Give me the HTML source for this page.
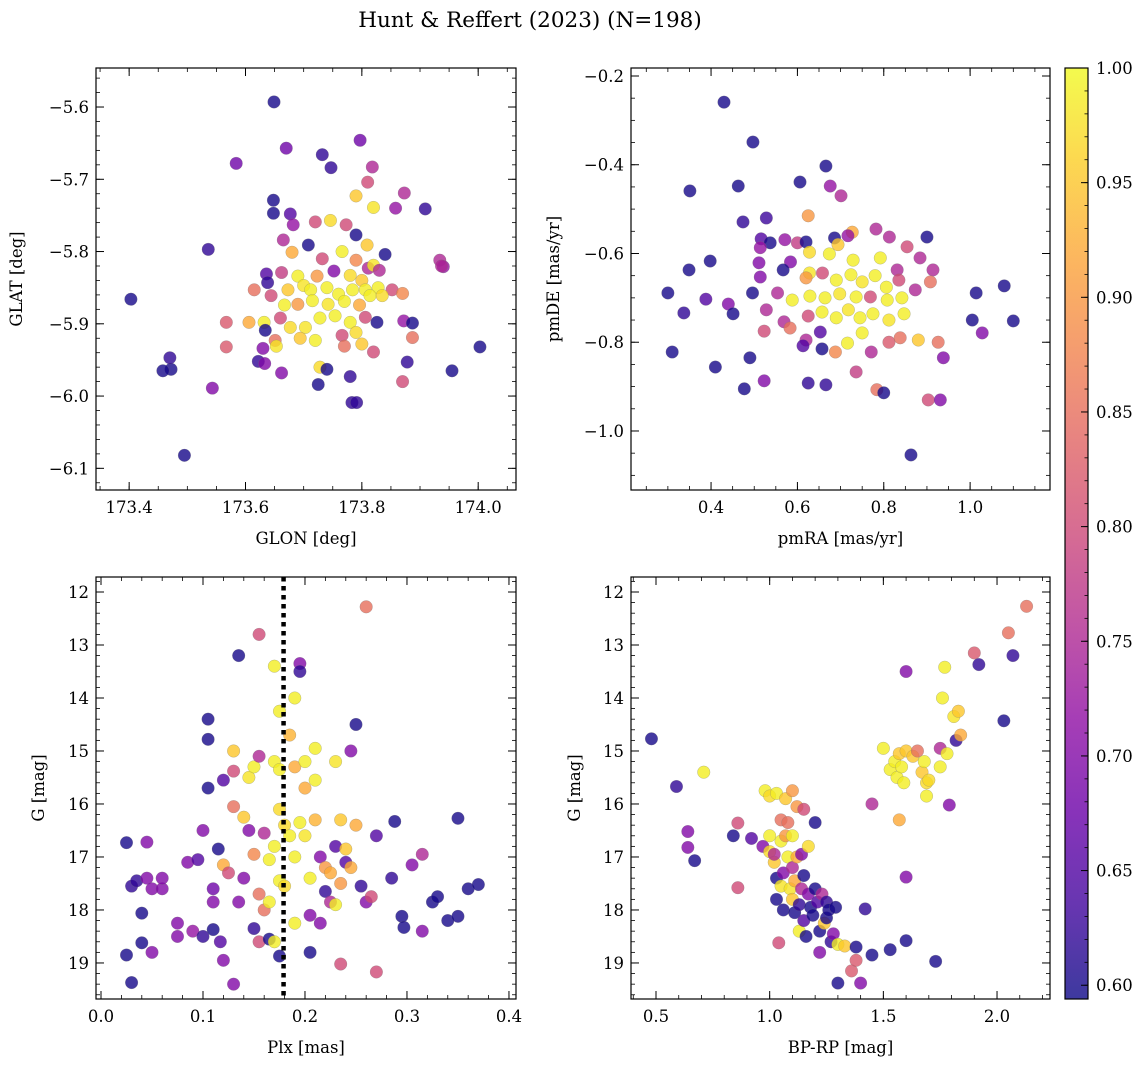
<!DOCTYPE html>
<html><head><meta charset="utf-8"><style>
body{margin:0;background:#fff;}
svg{display:block;font-family:"DejaVu Serif","Liberation Serif",serif;}
</style></head><body>
<svg id="fig" width="1148" height="1067" xmlns="http://www.w3.org/2000/svg">
<text x="530" y="27" font-size="21.5" text-anchor="middle">Hunt &amp; Reffert (2023) (N=198)</text>
</svg>
<script>
// ---- data (x, y, membership probability) per panel ----
const p1Glon=[173.403,173.649,173.584,173.67,173.797,173.732,173.747,173.818,173.81,173.79,173.82,173.873,173.858,173.909,173.648,173.648,173.677,173.682,173.72,173.746,173.773,173.79,173.809,173.84,173.708,173.68,173.665,173.536,173.732,173.766,173.79,173.811,173.82,173.636,173.662,173.69,173.723,173.752,173.78,173.8,173.83,173.934,173.94,173.638,173.673,173.7,173.712,173.74,173.76,173.784,173.806,173.828,173.852,173.87,173.615,173.644,173.667,173.69,173.715,173.742,173.77,173.796,173.814,173.835,173.567,173.606,173.632,173.66,173.677,173.703,173.728,173.754,173.78,173.806,173.826,173.872,173.887,173.634,173.651,173.694,173.72,173.766,173.79,173.567,173.63,173.653,173.77,173.8,173.82,173.887,173.622,173.633,173.728,173.74,173.662,173.725,173.78,173.87,173.878,173.543,173.472,173.458,173.47,173.495,173.783,173.791,173.955,174.003,173.937];
const p1Glat=[-5.866,-5.593,-5.678,-5.657,-5.646,-5.666,-5.684,-5.683,-5.704,-5.723,-5.739,-5.719,-5.74,-5.741,-5.729,-5.747,-5.748,-5.763,-5.759,-5.757,-5.763,-5.777,-5.791,-5.804,-5.791,-5.801,-5.784,-5.797,-5.81,-5.8,-5.812,-5.823,-5.819,-5.831,-5.829,-5.834,-5.834,-5.827,-5.833,-5.84,-5.826,-5.812,-5.821,-5.843,-5.853,-5.847,-5.853,-5.85,-5.859,-5.853,-5.853,-5.85,-5.853,-5.858,-5.853,-5.861,-5.874,-5.873,-5.868,-5.873,-5.869,-5.874,-5.861,-5.861,-5.898,-5.898,-5.898,-5.892,-5.905,-5.905,-5.892,-5.889,-5.898,-5.891,-5.898,-5.896,-5.899,-5.909,-5.923,-5.92,-5.923,-5.916,-5.912,-5.932,-5.934,-5.931,-5.931,-5.928,-5.939,-5.919,-5.952,-5.955,-5.96,-5.963,-5.968,-5.984,-5.973,-5.98,-5.953,-5.989,-5.963,-5.965,-5.947,-6.082,-6.009,-6.009,-5.965,-5.932,-5.82];
const p1Prob=[0.6,0.6,0.68,0.68,0.68,0.62,0.62,0.75,0.8,0.95,0.98,0.75,0.72,0.62,0.6,0.6,0.65,0.72,0.8,0.97,0.8,0.6,0.95,0.6,0.6,0.92,0.75,0.62,0.8,0.99,0.88,0.75,0.98,0.65,0.78,0.99,0.9,0.7,0.97,0.95,0.75,0.75,0.72,0.62,0.95,0.98,0.99,0.99,0.99,0.99,0.99,0.99,0.8,0.88,0.85,0.8,0.99,0.9,0.99,0.98,0.99,0.92,0.99,0.97,0.82,0.92,0.99,0.8,0.97,0.98,0.99,0.99,0.99,0.8,0.6,0.72,0.6,0.6,0.85,0.95,0.99,0.8,0.97,0.82,0.7,0.98,0.85,0.95,0.8,0.85,0.62,0.7,0.97,0.6,0.7,0.6,0.62,0.8,0.62,0.7,0.6,0.6,0.62,0.6,0.62,0.62,0.6,0.6,0.75];

const p2PmRA=[0.43,0.497,0.351,0.463,0.606,0.666,0.676,0.701,0.528,0.625,0.727,0.782,0.813,0.9,0.474,0.516,0.537,0.571,0.6,0.62,0.686,0.717,0.854,0.514,0.398,0.349,0.511,0.584,0.628,0.674,0.694,0.729,0.792,0.831,0.884,0.914,1.079,1.014,0.514,0.567,0.628,0.62,0.658,0.69,0.724,0.75,0.78,0.806,0.835,0.873,0.908,0.3,0.388,0.44,0.496,0.554,0.588,0.629,0.664,0.698,0.736,0.769,0.808,0.842,0.337,0.451,0.528,0.569,0.625,0.657,0.69,0.718,0.745,0.775,0.812,0.847,1.005,1.1,0.31,0.41,0.49,0.523,0.583,0.62,0.653,0.688,0.716,0.75,0.771,0.812,0.838,0.88,0.926,1.028,0.938,0.523,0.477,0.625,0.666,0.736,0.784,0.8,0.903,0.931,0.863,0.613,0.657];
const p2PmDE=[-0.259,-0.349,-0.459,-0.448,-0.439,-0.403,-0.448,-0.47,-0.52,-0.515,-0.552,-0.545,-0.563,-0.563,-0.529,-0.567,-0.576,-0.569,-0.576,-0.574,-0.565,-0.56,-0.585,-0.587,-0.617,-0.637,-0.621,-0.619,-0.597,-0.601,-0.58,-0.615,-0.61,-0.637,-0.61,-0.637,-0.673,-0.689,-0.653,-0.637,-0.644,-0.655,-0.644,-0.66,-0.648,-0.664,-0.65,-0.676,-0.66,-0.682,-0.664,-0.689,-0.703,-0.714,-0.689,-0.689,-0.705,-0.696,-0.7,-0.691,-0.698,-0.698,-0.705,-0.7,-0.734,-0.736,-0.727,-0.754,-0.741,-0.732,-0.745,-0.727,-0.745,-0.736,-0.75,-0.736,-0.75,-0.752,-0.822,-0.856,-0.835,-0.775,-0.768,-0.795,-0.777,-0.822,-0.802,-0.779,-0.822,-0.8,-0.79,-0.795,-0.8,-0.779,-0.835,-0.887,-0.905,-0.892,-0.896,-0.867,-0.907,-0.914,-0.93,-0.93,-1.054,-0.808,-0.815];
const p2Prob=[0.6,0.6,0.6,0.6,0.6,0.6,0.72,0.75,0.63,0.9,0.92,0.75,0.75,0.6,0.62,0.65,0.6,0.72,0.78,0.6,0.6,0.72,0.8,0.72,0.6,0.6,0.7,0.7,0.97,0.99,0.95,0.99,0.99,0.75,0.75,0.75,0.6,0.6,0.7,0.6,0.98,0.9,0.8,0.99,0.99,0.98,0.99,0.99,0.8,0.75,0.85,0.6,0.65,0.7,0.6,0.75,0.99,0.99,0.99,0.98,0.99,0.8,0.99,0.99,0.62,0.6,0.75,0.75,0.8,0.99,0.99,0.98,0.99,0.99,0.98,0.99,0.6,0.6,0.6,0.6,0.6,0.8,0.85,0.75,0.65,0.88,0.99,0.99,0.75,0.82,0.85,0.95,0.85,0.7,0.7,0.7,0.6,0.62,0.62,0.78,0.85,0.6,0.8,0.7,0.6,0.65,0.6];

const p3Plx=[0.025,0.03,0.025,0.03,0.04,0.04,0.035,0.045,0.045,0.05,0.05,0.06,0.06,0.075,0.075,0.085,0.09,0.095,0.1,0.1,0.105,0.105,0.105,0.11,0.11,0.11,0.115,0.117,0.12,0.12,0.12,0.125,0.13,0.13,0.13,0.13,0.135,0.135,0.14,0.14,0.145,0.145,0.15,0.15,0.15,0.155,0.155,0.155,0.155,0.16,0.16,0.165,0.165,0.165,0.17,0.17,0.17,0.17,0.175,0.175,0.175,0.175,0.175,0.18,0.18,0.185,0.185,0.19,0.19,0.19,0.19,0.195,0.195,0.195,0.2,0.2,0.2,0.205,0.205,0.205,0.21,0.21,0.21,0.215,0.215,0.22,0.22,0.225,0.225,0.23,0.23,0.23,0.235,0.235,0.235,0.24,0.24,0.245,0.245,0.25,0.25,0.255,0.26,0.26,0.265,0.27,0.27,0.285,0.288,0.295,0.297,0.305,0.315,0.315,0.325,0.33,0.34,0.35,0.35,0.36,0.37];
const p3G=[18.85,19.37,16.73,17.55,18.06,18.62,17.45,17.4,16.72,17.6,18.8,17.6,17.4,18.5,18.25,17.1,18.4,17.05,18.5,16.5,15.7,14.4,14.78,17.6,17.85,18.37,16.85,18.6,18.95,15.55,17.15,17.3,19.4,16.05,15.38,15.0,17.85,13.2,17.4,16.25,15.5,16.5,16.95,18.35,15.3,15.1,17.7,18.6,12.8,16.55,18.0,17.05,18.55,17.85,13.4,15.2,16.8,18.6,14.25,17.45,18.87,15.35,16.1,16.4,17.55,14.7,16.6,14.0,15.3,17.0,18.25,13.35,13.5,16.35,15.2,16.6,15.7,18.1,17.4,18.8,14.95,16.3,15.55,18.25,17.0,17.2,17.65,17.85,17.3,16.8,15.2,17.9,16.3,17.5,19.02,17.1,16.85,17.2,15.0,14.5,16.4,17.55,12.28,17.85,17.75,16.6,19.17,17.4,16.33,18.12,18.33,17.15,18.4,16.95,17.85,17.75,18.2,18.12,16.27,17.6,17.52];
const p3Prob=[0.6,0.6,0.6,0.62,0.6,0.6,0.62,0.7,0.7,0.7,0.7,0.7,0.7,0.7,0.7,0.7,0.72,0.65,0.62,0.7,0.6,0.6,0.6,0.68,0.7,0.6,0.6,0.65,0.7,0.65,0.92,0.8,0.7,0.85,0.8,0.95,0.7,0.6,0.7,0.95,0.98,0.7,0.88,0.62,0.99,0.75,0.85,0.8,0.8,0.75,0.85,0.99,0.6,0.99,0.99,0.99,0.99,0.99,0.99,0.99,0.6,0.99,0.97,0.97,0.97,0.93,0.99,0.99,0.92,0.99,0.99,0.7,0.62,0.99,0.99,0.98,0.92,0.7,0.99,0.6,0.99,0.93,0.99,0.7,0.7,0.9,0.62,0.75,0.92,0.65,0.98,0.99,0.95,0.9,0.8,0.65,0.95,0.92,0.7,0.6,0.92,0.62,0.85,0.7,0.8,0.65,0.8,0.62,0.6,0.6,0.6,0.7,0.7,0.75,0.6,0.6,0.6,0.6,0.6,0.6,0.6];

const p4BpRp=[0.48,0.59,0.64,0.64,0.67,0.71,0.84,0.86,0.86,0.92,0.97,0.98,1.0,1.0,1.0,1.02,1.02,1.03,1.03,1.03,1.04,1.05,1.05,1.05,1.06,1.06,1.07,1.07,1.08,1.08,1.09,1.1,1.1,1.1,1.1,1.11,1.11,1.12,1.12,1.13,1.13,1.14,1.14,1.15,1.15,1.15,1.16,1.17,1.17,1.18,1.19,1.2,1.2,1.21,1.22,1.22,1.23,1.24,1.25,1.25,1.26,1.27,1.28,1.29,1.3,1.3,1.33,1.36,1.38,1.38,1.4,1.42,1.45,1.45,1.5,1.53,1.53,1.55,1.56,1.57,1.57,1.58,1.59,1.6,1.6,1.6,1.6,1.63,1.65,1.67,1.68,1.69,1.7,1.69,1.73,1.75,1.75,1.76,1.77,1.78,1.79,1.81,1.82,1.83,1.84,1.9,1.92,2.03,2.05,2.07,2.13];
const p4G=[14.77,15.67,16.52,16.82,17.07,15.4,16.6,16.36,17.58,16.65,16.8,15.75,15.85,16.6,16.9,17.1,16.95,15.8,17.4,17.8,18.62,16.3,16.7,17.55,17.3,18.0,15.9,16.6,17.0,16.35,17.6,17.2,15.75,16.6,17.8,17.45,18.05,16.05,17.0,17.9,18.4,16.95,17.6,16.1,17.35,18.2,18.5,17.7,16.8,17.95,18.1,16.35,17.6,17.85,18.4,18.8,17.7,18.25,17.85,18.15,18.0,18.6,18.45,17.95,19.38,18.65,18.68,19.15,18.95,18.7,19.38,17.98,16.0,18.85,14.95,18.75,15.35,15.2,15.5,15.05,16.3,15.3,15.6,15.0,13.5,17.38,18.58,15.1,15.0,15.4,15.2,15.6,15.55,15.85,18.97,15.3,14.95,14.0,13.42,15.05,16.02,14.35,14.8,14.25,14.7,13.15,13.37,14.43,12.77,13.2,12.27];
const p4Prob=[0.6,0.62,0.7,0.7,0.6,0.99,0.6,0.8,0.8,0.65,0.7,0.99,0.97,0.99,0.97,0.95,0.75,0.99,0.6,0.6,0.8,0.85,0.99,0.98,0.7,0.6,0.95,0.9,0.99,0.85,0.98,0.75,0.9,0.99,0.95,0.92,0.6,0.9,0.92,0.62,0.99,0.7,0.75,0.8,0.6,0.65,0.6,0.7,0.97,0.6,0.6,0.6,0.6,0.65,0.6,0.7,0.75,0.95,0.62,0.6,0.6,0.62,0.7,0.6,0.6,0.99,0.95,0.82,0.82,0.6,0.7,0.62,0.75,0.6,0.99,0.6,0.99,0.99,0.99,0.95,0.92,0.99,0.99,0.95,0.7,0.7,0.6,0.95,0.85,0.95,0.99,0.97,0.97,0.99,0.6,0.99,0.75,0.99,0.99,0.99,0.7,0.98,0.62,0.95,0.92,0.82,0.62,0.6,0.85,0.62,0.85];

const cbTicks=[0.60,0.65,0.70,0.75,0.80,0.85,0.90,0.95,1.00];
const plxCut=[0.179];

const NS="http://www.w3.org/2000/svg";
const svg=document.getElementById('fig');
const VMIN=0.594,VMAX=1.0;
const stops=[[13,8,135],[65,4,157],[106,0,168],[143,13,164],[177,42,144],[204,71,120],[225,100,98],[242,132,75],[252,166,54],[252,206,37],[240,249,33]];
function plasma(v){let t=Math.max(0,Math.min(1,(v-VMIN)/(VMAX-VMIN)))*10;let i=Math.min(9,Math.floor(t)),f=t-i;const a=stops[i],b=stops[i+1];return 'rgb('+a.map((c,k)=>Math.round(c+(b[k]-c)*f)).join(',')+')';}
function mk(tag,attrs,parent){const e=document.createElementNS(NS,tag);for(const k in attrs)e.setAttribute(k,attrs[k]);(parent||svg).appendChild(e);return e;}
function fmt(v,d){let s=v.toFixed(d);if(v<0&&parseFloat(s)!==0)s='\u2212'+s.slice(1);return s;}
const FS=16.5;

function panel(o){
  const g=mk('g',{});
  
  
  const sx=v=>o.L+(v-o.x0)/(o.x1-o.x0)*(o.R-o.L);
  const sy=v=>o.T+(v-o.y0)/(o.y1-o.y0)*(o.B-o.T);
  const clipId='c'+o.name;
  const cp=mk('clipPath',{id:clipId},g);mk('rect',{x:o.L,y:o.T,width:o.R-o.L,height:o.B-o.T},cp);
  const pg=mk('g',{'clip-path':'url(#'+clipId+')'},g);
  for(let i=0;i<o.xs.length;i++){
    const c=mk('circle',{cx:sx(o.xs[i]),cy:sy(o.ys[i]),r:6.3,fill:plasma(o.ps[i]),'fill-opacity':0.8,stroke:'#777','stroke-width':0.4,'stroke-opacity':0.6},pg);
    
    
  }
  if(o.vline){o.vline.forEach(v=>{const l=mk('line',{x1:sx(v),x2:sx(v),y1:o.T,y2:o.B,stroke:'#000','stroke-width':4.5,'stroke-dasharray':'4.5 4.5'},pg);
    
    });}
  const fr=mk('rect',{x:o.L,y:o.T,width:o.R-o.L,height:o.B-o.T,fill:'none',stroke:'#000','stroke-width':1.2},g);
  
  
  const xlo=Math.min(o.x0,o.x1),xhi=Math.max(o.x0,o.x1),ylo=Math.min(o.y0,o.y1),yhi=Math.max(o.y0,o.y1);
  for(let v=Math.ceil(xlo/o.xm-1e-6)*o.xm;v<=xhi+1e-9;v+=o.xm){const x=sx(v);mk('line',{x1:x,x2:x,y1:o.B,y2:o.B-4,stroke:'#000','stroke-width':0.8},g);mk('line',{x1:x,x2:x,y1:o.T,y2:o.T+4,stroke:'#000','stroke-width':0.8},g);}
  for(let v=Math.ceil(ylo/o.ym-1e-6)*o.ym;v<=yhi+1e-9;v+=o.ym){const y=sy(v);mk('line',{x1:o.L,x2:o.L+4,y1:y,y2:y,stroke:'#000','stroke-width':0.8},g);mk('line',{x1:o.R,x2:o.R-4,y1:y,y2:y,stroke:'#000','stroke-width':0.8},g);}
  o.xt.forEach(v=>{const x=sx(v);mk('line',{x1:x,x2:x,y1:o.B,y2:o.B-8,stroke:'#000','stroke-width':1},g);mk('line',{x1:x,x2:x,y1:o.T,y2:o.T+8,stroke:'#000','stroke-width':1},g);
    const t=mk('text',{x:x,y:o.B+23,'font-size':FS,'text-anchor':'middle'},g);t.textContent=fmt(v,o.xd);
    
    });
  o.yt.forEach(v=>{const y=sy(v);mk('line',{x1:o.L,x2:o.L+8,y1:y,y2:y,stroke:'#000','stroke-width':1},g);mk('line',{x1:o.R,x2:o.R-8,y1:y,y2:y,stroke:'#000','stroke-width':1},g);
    const t=mk('text',{x:o.L-7,y:y+6,'font-size':FS,'text-anchor':'end'},g);t.textContent=fmt(v,o.yd);
    
    });
  const xl=mk('text',{x:(o.L+o.R)/2,y:o.B+54,'font-size':FS,'text-anchor':'middle'},g);xl.textContent=o.xlab;
  
  
  const yl=mk('text',{x:0,y:0,'font-size':FS,'text-anchor':'middle',transform:'translate('+o.ylx+','+(o.T+o.B)/2+') rotate(-90)'},g);yl.textContent=o.ylab;
  
  
}
function rng(a,b,s){const r=[];for(let v=a;v<=b+1e-9;v+=s)r.push(Math.round(v*1000)/1000);return r;}

panel({name:'sky-position-panel',L:96,R:516,T:68,B:490,x0:173.343,x1:174.065,y0:-5.546,y1:-6.130,xs:p1Glon,ys:p1Glat,ps:p1Prob,xt:rng(173.4,174.0,0.2),xm:0.05,xd:1,yt:rng(-6.1,-5.6,0.1),ym:0.02,yd:1,xlab:'GLON [deg]',ylab:'GLAT [deg]',ylx:22});
panel({name:'proper-motion-panel',L:631,R:1050,T:68,B:490,x0:0.2146,x1:1.185,y0:-0.182,y1:-1.133,xs:p2PmRA,ys:p2PmDE,ps:p2Prob,xt:rng(0.4,1.0,0.2),xm:0.05,xd:1,yt:rng(-1.0,-0.2,0.2),ym:0.05,yd:1,xlab:'pmRA [mas/yr]',ylab:'pmDE [mas/yr]',ylx:559});
panel({name:'parallax-magnitude-panel',L:96,R:516,T:577,B:999,x0:-0.0049,x1:0.4069,y0:11.717,y1:19.68,xs:p3Plx,ys:p3G,ps:p3Prob,xt:rng(0,0.4,0.1),xm:0.02,xd:1,yt:rng(12,19,1),ym:0.2,yd:0,xlab:'Plx [mas]',ylab:'G [mag]',ylx:44,vline:plxCut});
panel({name:'color-magnitude-panel',L:631,R:1050,T:577,B:999,x0:0.39,x1:2.233,y0:11.717,y1:19.68,xs:p4BpRp,ys:p4G,ps:p4Prob,xt:rng(0.5,2.0,0.5),xm:0.1,xd:1,yt:rng(12,19,1),ym:0.2,yd:0,xlab:'BP-RP [mag]',ylab:'G [mag]',ylx:580});

const cb=mk('g',{});


const CL=1065,CR=1088,CT=68,CB=999;
const cy=v=>CB-(v-VMIN)/(VMAX-VMIN)*(CB-CT);
const defs=mk('defs',{},cb);const lg=mk('linearGradient',{id:'plg',x1:0,y1:1,x2:0,y2:0},defs);
for(let i=0;i<=20;i++){const v=VMIN+(VMAX-VMIN)*i/20;mk('stop',{offset:i/20,'stop-color':plasma(v)},lg);}
mk('rect',{x:CL,y:CT,width:CR-CL,height:CB-CT,fill:'url(#plg)','fill-opacity':0.8},cb);
mk('rect',{x:CL,y:CT,width:CR-CL,height:CB-CT,fill:'none',stroke:'#000','stroke-width':1.2},cb);
for(let v=0.6;v<=1.0001;v+=0.01){const y=cy(v);mk('line',{x1:CR,x2:CR-3.5,y1:y,y2:y,stroke:'#000','stroke-width':0.8},cb);}
cbTicks.forEach(v=>{const y=cy(v);mk('line',{x1:CR,x2:CR-7,y1:y,y2:y,stroke:'#000','stroke-width':1},cb);
  const t=mk('text',{x:CR+8,y:y+6,'font-size':FS},cb);t.textContent=v.toFixed(2);
  
  });
</script>
</body></html>
